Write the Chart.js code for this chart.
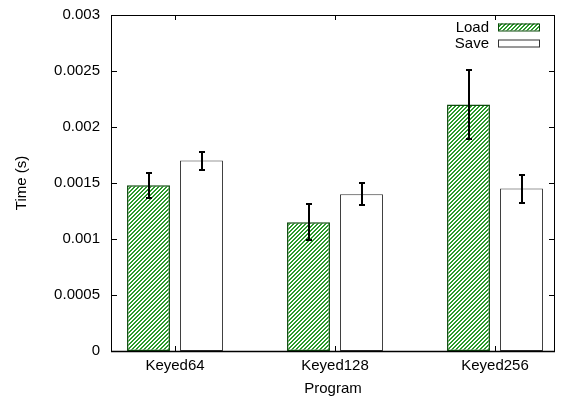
<!DOCTYPE html>
<html>
<head>
<meta charset="utf-8">
<script src="https://cdn.jsdelivr.net/npm/chart.js@4/dist/chart.umd.min.js"></script>
<style>
  html, body { margin: 0; padding: 0; background: #fff; }
  canvas { display: block; }
</style>
</head>
<body>
<canvas id="chart" width="563" height="398"></canvas>
<script>
// Mean load/save times per program, with error half-widths
const programs = ['Keyed64', 'Keyed128', 'Keyed256'];
const loadTimes = [0.00148, 0.00115, 0.0022];
const loadErrors = [0.00011, 0.00016, 0.00031];
const saveTimes = [0.0017, 0.0014, 0.00145];
const saveErrors = [0.00008, 0.0001, 0.000125];
const yTicks = [0, 0.0005, 0.001, 0.0015, 0.002, 0.0025, 0.003];
const yTickLabels = ['0', '0.0005', '0.001', '0.0015', '0.002', '0.0025', '0.003'];

const FONT_FAMILY = "'Liberation Sans', Arial, Helvetica, sans-serif";
const FONT_SIZE = 15;

// Green diagonal hatch fill, built pixel by pixel so the stripes stay crisp
function makeHatch() {
  const tile = document.createElement('canvas');
  tile.width = 4; tile.height = 4;
  const g = tile.getContext('2d');
  g.fillStyle = '#ffffff';
  g.fillRect(0, 0, 4, 4);
  g.fillStyle = '#2a9a2a';
  for (let px = 0; px < 4; px++) {
    for (let py = 0; py < 4; py++) {
      if ((px + py) % 4 < 2) g.fillRect(px, py, 1, 1);
    }
  }
  return g.createPattern(tile, 'repeat');
}

Chart.defaults.font.family = FONT_FAMILY;
Chart.defaults.font.size = FONT_SIZE;
Chart.defaults.color = '#000';

// Vertical error bars with caps, drawn over each bar
const errorBars = {
  id: 'errorBars',
  afterDatasetsDraw(chart) {
    const { ctx, scales: { y } } = chart;
    ctx.save();
    ctx.strokeStyle = '#000';
    ctx.lineWidth = 2;
    chart.data.datasets.forEach((ds, di) => {
      const meta = chart.getDatasetMeta(di);
      meta.data.forEach((bar, i) => {
        const v = ds.data[i].y, e = ds.errors[i];
        const top = Math.round(y.getPixelForValue(v + e));
        const bot = Math.round(y.getPixelForValue(v - e));
        const x = Math.round(bar.x);
        ctx.beginPath();
        ctx.moveTo(x, top); ctx.lineTo(x, bot);
        ctx.moveTo(x - 3, top); ctx.lineTo(x + 3, top);
        ctx.moveTo(x - 3, bot); ctx.lineTo(x + 3, bot);
        ctx.stroke();
      });
    });
    ctx.restore();
  }
};

// Key in the upper right corner: label text, then a sample box
const keyBox = {
  id: 'keyBox',
  afterDatasetsDraw(chart) {
    const { ctx, chartArea: a } = chart;
    ctx.save();
    ctx.font = FONT_SIZE + 'px ' + FONT_FAMILY;
    ctx.textAlign = 'right';
    ctx.textBaseline = 'middle';
    chart.data.datasets.forEach((ds, i) => {
      const cy = a.top + 12 + i * 16;
      ctx.fillStyle = '#000';
      ctx.fillText(ds.label, a.right - 66, cy + 1);
      ctx.fillStyle = ds.backgroundColor;
      ctx.fillRect(a.right - 57, cy - 3.5, 42, 7);
      ctx.strokeStyle = ds.borderColor;
      ctx.lineWidth = 1;
      ctx.strokeRect(a.right - 56.5, cy - 3, 41, 7);
    });
    ctx.restore();
  }
};

// Plot border with inward tick marks on all four sides
const frame = {
  id: 'frame',
  afterDraw(chart) {
    const { ctx, chartArea: a, scales: { x, y } } = chart;
    ctx.save();
    ctx.strokeStyle = '#000';
    ctx.lineWidth = 1;
    const seg = (x1, y1, x2, y2) => { ctx.beginPath(); ctx.moveTo(x1, y1); ctx.lineTo(x2, y2); ctx.stroke(); };
    y.ticks.forEach(t => {
      const py = Math.round(y.getPixelForValue(t.value)) + 0.5;
      seg(a.left, py, a.left + 6, py);
      seg(a.right - 6, py, a.right, py);
    });
    x.ticks.forEach(t => {
      const px = Math.round(x.getPixelForValue(t.value)) + 0.5;
      seg(px, a.bottom, px, a.bottom - 5);
      seg(px, a.top, px, a.top + 5);
    });
    ctx.strokeRect(Math.round(a.left) + 0.5, Math.round(a.top) + 0.5,
                   Math.round(a.right - a.left) - 1, Math.round(a.bottom - a.top));
    ctx.lineWidth = 1.5;
    seg(a.left, Math.round(a.bottom) + 0.5, a.right, Math.round(a.bottom) + 0.5);
    ctx.restore();
  }
};

new Chart(document.getElementById('chart'), {
  type: 'bar',
  data: {
    datasets: [
      {
        label: 'Load',
        data: loadTimes.map((v, i) => ({ x: i, y: v })),
        errors: loadErrors,
        backgroundColor: makeHatch(),
        borderColor: '#0b4a0b',
        borderWidth: 1.5,
        borderSkipped: false
      },
      {
        label: 'Save',
        data: saveTimes.map((v, i) => ({ x: i, y: v })),
        errors: saveErrors,
        backgroundColor: '#ffffff',
        borderColor: '#333333',
        borderWidth: 1,
        borderSkipped: false
      }
    ]
  },
  options: {
    responsive: false,
    animation: false,
    devicePixelRatio: 1,
    categoryPercentage: 0.6625,
    barPercentage: 0.81,
    layout: { padding: { top: 15, right: 8, left: 0, bottom: 0 } },
    plugins: { legend: { display: false }, tooltip: { enabled: false } },
    scales: {
      x: {
        type: 'linear',
        offset: false,
        min: -0.4,
        max: 2.375,
        grid: { display: false, drawTicks: false },
        border: { display: false },
        afterBuildTicks: s => { s.ticks = programs.map((_, i) => ({ value: i })); },
        afterFit: s => { s.height = 47; s.paddingLeft = 0; s.paddingRight = 0; },
        ticks: {
          autoSkip: false,
          maxRotation: 0,
          padding: 6,
          callback: v => programs[v]
        },
        title: { display: true, text: 'Program', padding: { top: 0, bottom: 0 } }
      },
      y: {
        min: 0,
        max: 0.003,
        grid: { display: false, drawTicks: false },
        border: { display: false },
        afterBuildTicks: s => { s.ticks = yTicks.map(v => ({ value: v })); },
        afterFit: s => { s.width = 111; s.paddingTop = 0; s.paddingBottom = 0; },
        ticks: {
          padding: 11,
          callback: (v, i) => yTickLabels[i]
        },
        title: { display: true, text: 'Time (s)', padding: { top: 12.5, bottom: 0 } }
      }
    }
  },
  plugins: [errorBars, keyBox, frame]
});
</script>
</body>
</html>
